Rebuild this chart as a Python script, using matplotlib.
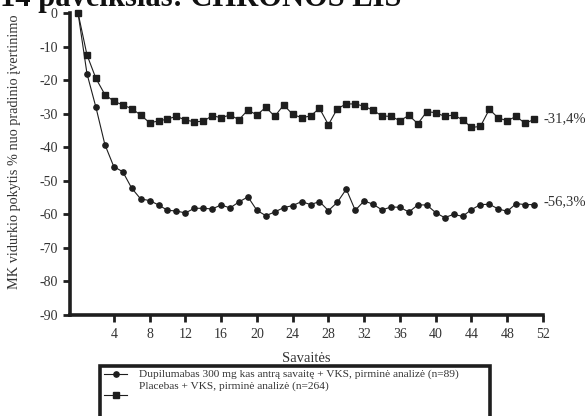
import matplotlib
matplotlib.use("Agg")
import matplotlib.pyplot as plt
from matplotlib.lines import Line2D
from matplotlib.patches import Rectangle

weeks = list(range(0, 52))
dupilumab = [0, -18.1, -28.1, -39.2, -45.8, -47.3, -52.2, -55.4, -55.9, -57.2,
             -58.8, -59.0, -59.6, -58.2, -58.2, -58.4, -57.2, -58.1, -56.3, -54.8,
             -58.8, -60.4, -59.3, -58.0, -57.4, -56.2, -57.1, -56.2, -58.9, -56.4,
             -52.5, -58.8, -56.0, -57.0, -58.7, -57.8, -57.9, -59.3, -57.2, -57.2,
             -59.5, -61.0, -60.0, -60.6, -58.6, -57.1, -57.0, -58.4, -59.1, -56.8,
             -57.1, -57.1]
placebo = [0, -12.5, -19.5, -24.3, -26.3, -27.4, -28.5, -30.4, -32.7, -32.2,
           -31.6, -30.8, -31.9, -32.4, -32.3, -30.6, -31.2, -30.4, -31.8, -28.9,
           -30.4, -28.1, -30.8, -27.4, -30.2, -31.2, -30.7, -28.4, -33.3, -28.5,
           -27.1, -27.1, -27.8, -29.0, -30.7, -30.8, -32.1, -30.5, -33.0, -29.4,
           -29.7, -30.8, -30.4, -31.8, -34.1, -33.8, -28.7, -31.3, -32.1, -30.8,
           -32.9, -31.7]
end_labels = ["-31,4%", "-56,3%"]
xticks = [4, 8, 12, 16, 20, 24, 28, 32, 36, 40, 44, 48, 52]
yticks = [0, -10, -20, -30, -40, -50, -60, -70, -80, -90]
legend_labels = ["Dupilumabas 300 mg kas antrą savaitę + VKS, pirminė analizė (n=89)",
                 "Placebas + VKS, pirminė analizė (n=264)"]

serif = ["Liberation Serif", "DejaVu Serif"]
ink = "#1e1e1e"
txt = "#333333"

fig = plt.figure(figsize=(5.85, 4.16), dpi=100)
ax = fig.add_axes([70/585, 101/416, 473/585, 302/416])

ax.plot(weeks, dupilumab, color=ink, lw=0.8, marker="o", markersize=3.8,
        markerfacecolor=ink, markeredgecolor=ink, clip_on=False, zorder=3)
ax.plot(weeks, placebo, color=ink, lw=0.8, marker="s", markersize=4.6,
        markerfacecolor=ink, markeredgecolor=ink, clip_on=False, zorder=4)

ax.set_xlim(-0.9, 52)
ax.set_ylim(-90, 0)
ax.set_xticks(xticks)
ax.set_xticklabels([str(t) for t in xticks], family=serif, fontsize=10, color=txt)
ax.set_yticks(yticks)
ax.set_yticklabels([str(t) for t in yticks], family=serif, fontsize=10, color=txt)
ax.tick_params(axis="both", direction="out", length=5, width=2, color=ink, pad=4)

for s in ["top", "right"]:
    ax.spines[s].set_visible(False)
for s in ["left", "bottom"]:
    ax.spines[s].set_linewidth(2.6)
    ax.spines[s].set_color(ink)

ax.text(weeks[-1] + 1.0, placebo[-1] + 0.3, end_labels[0], family=serif,
        fontsize=10.5, color=txt, va="center", ha="left", clip_on=False)
ax.text(weeks[-1] + 1.0, dupilumab[-1] + 0.8, end_labels[1], family=serif,
        fontsize=10.5, color=txt, va="center", ha="left", clip_on=False)

ax.set_xlabel("Savaitės", family=serif, fontsize=10.5, color=txt, labelpad=8)
fig.text(15/585, 1 - 152/416, "MK vidurkio pokytis % nuo pradinio įvertinimo",
         family=serif, fontsize=10.3, color=txt, rotation=90, ha="center", va="center")

# title (cut off at top)
fig.text(0.0, 1 - 6/416, "14 paveikslas: CHRONOS LIS", family=serif,
         fontsize=22, fontweight="bold", color="#111111", ha="left", va="baseline")

# legend box
fig.patches.append(Rectangle((100/585, -0.05), 390/585, 0.05 + (416 - 366)/416,
                             transform=fig.transFigure, fill=False,
                             edgecolor=ink, linewidth=2.6))
fig.lines.append(Line2D([104/585, 127/585], [1 - 374/416] * 2, transform=fig.transFigure,
                        color=ink, lw=0.8))
fig.lines.append(Line2D([115.5/585], [1 - 374/416], transform=fig.transFigure,
                        color=ink, marker="o", markersize=3.8, linestyle="None"))
fig.lines.append(Line2D([104/585, 127/585], [1 - 395/416] * 2, transform=fig.transFigure,
                        color=ink, lw=0.8))
fig.lines.append(Line2D([115.5/585], [1 - 395/416], transform=fig.transFigure,
                        color=ink, marker="s", markersize=4.6, linestyle="None"))
fig.text(139/585, 1 - 374/416, legend_labels[0], family=serif, fontsize=8.2,
         color=txt, va="center", ha="left")
fig.text(139/585, 1 - 386/416, legend_labels[1], family=serif, fontsize=8.2,
         color=txt, va="center", ha="left")

fig.savefig("out.png", dpi=100)
